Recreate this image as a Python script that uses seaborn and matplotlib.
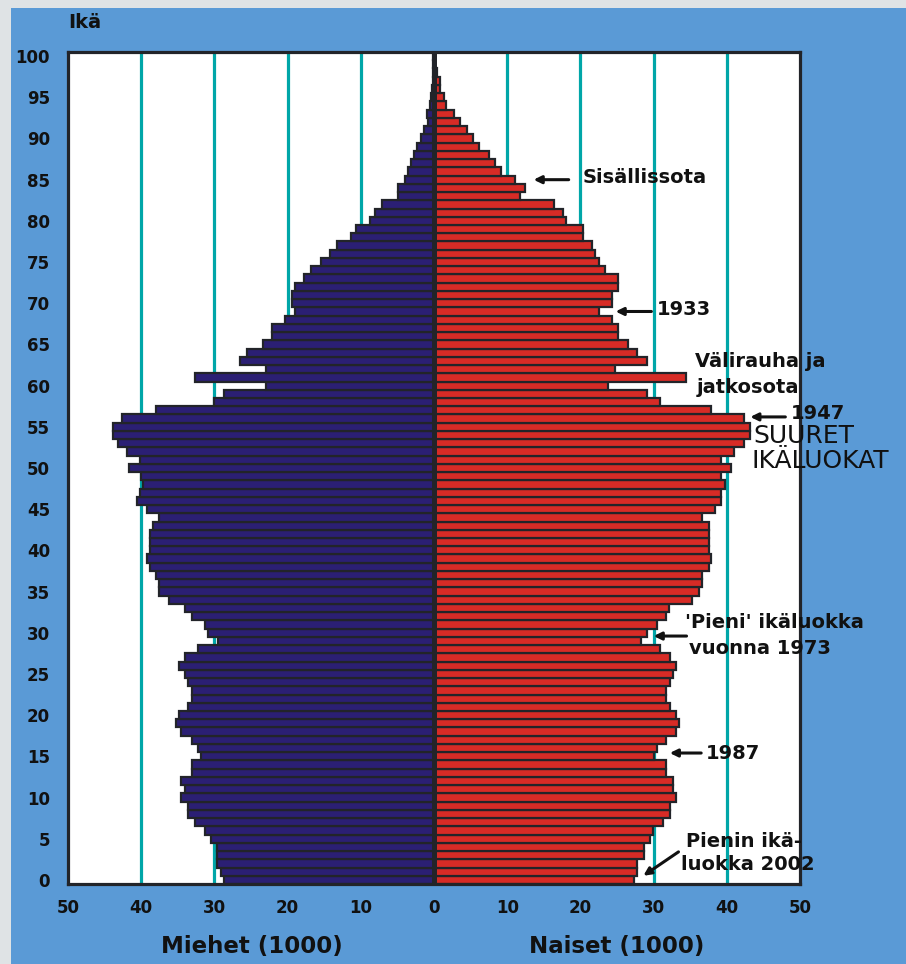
import matplotlib
matplotlib.use("Agg")
import matplotlib.pyplot as plt
from matplotlib.patches import Rectangle
import pandas as pd
import seaborn as sns

# Väestöpyramidi, Suomi (tuhansia henkeä, ikä 0-100)
ages = list(range(0, 101))
men = [28.7, 29.1, 29.6, 29.6, 29.6, 30.5, 31.3, 32.7, 33.6, 33.6,
       34.5, 34.0, 34.5, 33.1, 33.1, 31.8, 32.2, 33.1, 34.5, 35.3,
       34.9, 33.6, 33.1, 33.1, 33.6, 34.0, 34.9, 34.0, 32.2, 29.5,
       30.9, 31.3, 33.1, 34.0, 36.2, 37.6, 37.6, 38.0, 38.8, 39.2,
       38.8, 38.8, 38.8, 38.4, 37.6, 39.2, 40.6, 40.2, 39.8, 40.0,
       41.6, 40.2, 42.0, 43.2, 43.8, 43.8, 42.6, 38.0, 30.1, 28.7,
       22.9, 32.7, 22.9, 26.5, 25.5, 23.4, 22.1, 22.1, 20.3, 19.0,
       19.4, 19.4, 19.0, 17.7, 16.8, 15.4, 14.2, 13.2, 11.4, 10.6,
       8.8, 8.0, 7.1, 4.9, 4.9, 4.0, 3.5, 3.1, 2.7, 2.3,
       1.8, 1.3, 0.8, 0.9, 0.5, 0.4, 0.3, 0.2, 0.1, 0.1,
       0.1]
women = [27.3, 27.7, 27.7, 28.7, 28.7, 29.5, 29.9, 31.3, 32.3, 32.3,
         33.1, 32.7, 32.7, 31.7, 31.7, 30.1, 30.5, 31.7, 33.1, 33.5,
         33.1, 32.3, 31.7, 31.7, 32.3, 32.7, 33.1, 32.3, 30.9, 28.3,
         29.1, 30.5, 31.7, 32.1, 35.3, 36.2, 36.6, 36.6, 37.5, 37.9,
         37.5, 37.5, 37.5, 37.5, 36.6, 38.4, 39.2, 39.2, 39.7, 39.2,
         40.6, 39.2, 41.0, 42.4, 43.2, 43.2, 42.4, 37.9, 30.9, 29.1,
         23.8, 34.4, 24.7, 29.1, 27.7, 26.5, 25.1, 25.1, 24.3, 22.5,
         24.3, 24.3, 25.1, 25.1, 23.3, 22.5, 22.0, 21.6, 20.3, 20.3,
         18.0, 17.6, 16.4, 11.8, 12.4, 11.0, 9.2, 8.4, 7.5, 6.1,
         5.3, 4.5, 3.5, 2.7, 1.7, 1.3, 0.8, 0.8, 0.4, 0.2,
         0.1]

x_ticks = [-50, -40, -30, -20, -10, 0, 10, 20, 30, 40, 50]
x_tick_labels = ["50", "40", "30", "20", "10", "0", "10", "20", "30", "40", "50"]
y_ticks = list(range(0, 101, 5))
grid_lines = [-40, -30, -20, -10, 10, 20, 30, 40]

df = pd.DataFrame({"ika": ages, "miehet": men, "naiset": women})
df["miehet_vas"] = -df["miehet"]

BG = "#5a9ad6"
NAVY = "#2b1f74"
RED = "#d72b26"
DARK = "#222429"
TEAL = "#00a6a8"
INK = "#111111"

sns.set_style("white")
plt.rcParams["font.family"] = ["DejaVu Sans"]
plt.rcParams["text.color"] = INK

fig = plt.figure(figsize=(9.06, 9.64), dpi=100)
fig.patch.set_facecolor("#dfe3e5")
fig.add_artist(Rectangle((11 / 906, 0), 1, 1 - 8 / 964, transform=fig.transFigure,
                         facecolor=BG, edgecolor="none", zorder=-5))
ax = fig.add_axes([68 / 906, 80 / 964, 732 / 906, 832 / 964])
ax.set_facecolor("white")

for v in grid_lines:
    ax.axvline(v, color=TEAL, lw=2.3, zorder=0)

bar_kw = dict(orient="y", native_scale=True, width=1.0, saturation=1,
              edgecolor=DARK, linewidth=1.6, errorbar=None, zorder=2, ax=ax)
sns.barplot(data=df, x="miehet_vas", y="ika", color=NAVY, **bar_kw)
sns.barplot(data=df, x="naiset", y="ika", color=RED, **bar_kw)
ax.axvline(0, color=DARK, lw=3.6, zorder=3)

ax.set_xlim(-50, 50)
ax.set_ylim(-0.5, 100.5)
ax.set_xticks(x_ticks, x_tick_labels)
ax.set_yticks(y_ticks, [str(t) for t in y_ticks])
ax.tick_params(axis="x", length=0, pad=11, labelsize=12)
ax.tick_params(axis="y", length=0, pad=13, labelsize=12)
for lab in ax.get_xticklabels() + ax.get_yticklabels():
    lab.set_fontweight("bold")
    lab.set_color(INK)
ax.set_xlabel("")
ax.set_ylabel("")
for sp in ax.spines.values():
    sp.set_visible(True)
    sp.set_color(DARK)
    sp.set_linewidth(2.3)
    sp.set_zorder(4)

fig.text(68 / 906, 1 - 23 / 964, "Ikä", fontsize=14, fontweight="bold", va="center", ha="left", color=INK)
fig.text(252 / 906, 1 - 947 / 964, "Miehet (1000)", fontsize=16.5, fontweight="bold", va="center", ha="center", color=INK)
fig.text(617 / 906, 1 - 947 / 964, "Naiset (1000)", fontsize=16.5, fontweight="bold", va="center", ha="center", color=INK)

# huomautukset
ann = dict(fontsize=14, fontweight="bold", va="center", ha="left", color=INK, clip_on=False, zorder=6)
arr = dict(arrowstyle="-|>,head_length=0.45,head_width=0.22", color=INK, lw=2.2, shrinkA=0, shrinkB=0)


def arrow(tail, tip):
    ax.annotate("", xy=tip, xytext=tail, xycoords="data", arrowprops=arr, annotation_clip=False, zorder=6)


ax.text(20.3, 85.3, "Sisällissota", **ann)
arrow((18.4, 85.0), (13.6, 85.0))

ax.text(30.4, 69.2, "1933", **ann)
arrow((29.7, 69.0), (24.8, 69.0))

ax.text(35.7, 62.9, "Välirauha ja", **ann)
ax.text(35.9, 59.8, "jatkosota", **ann)

ax.text(48.8, 56.6, "1947", **ann)
arrow((48.0, 56.2), (43.2, 56.2))

ax.text(43.6, 53.9, "SUURET", fontsize=18, va="center", ha="left", color=INK, clip_on=False, zorder=6)
ax.text(43.4, 50.8, "IKÄLUOKAT", fontsize=18, va="center", ha="left", color=INK, clip_on=False, zorder=6)

ax.text(34.3, 31.3, "'Pieni' ikäluokka", **ann)
ax.text(34.8, 28.1, "vuonna 1973", **ann)
arrow((34.5, 29.6), (30.0, 29.6))

ax.text(37.1, 15.3, "1987", **ann)
arrow((36.5, 15.4), (32.2, 15.4))

ax.text(34.4, 4.7, "Pienin ikä-", **ann)
ax.text(33.8, 1.9, "luokka 2002", **ann)
arrow((33.4, 3.4), (28.6, 0.5))

fig.savefig("out.png", dpi=100, facecolor=fig.get_facecolor())
